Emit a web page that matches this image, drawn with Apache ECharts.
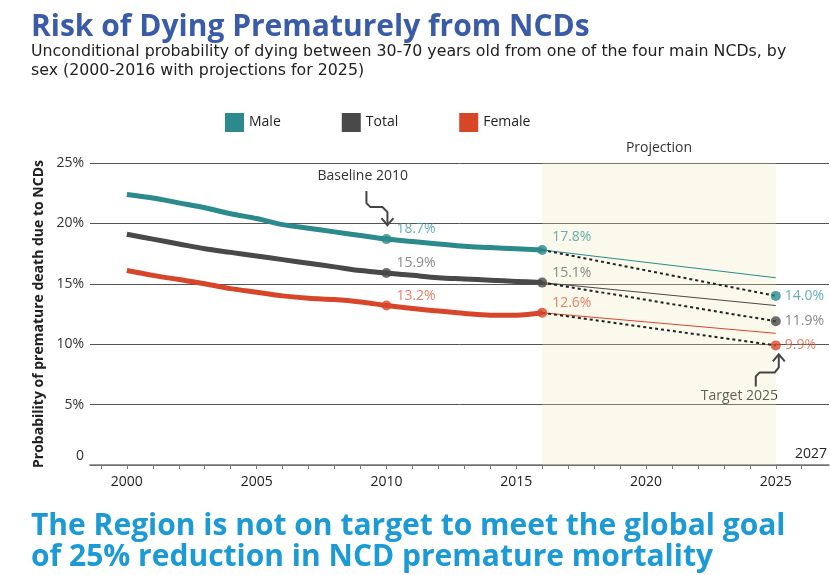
<!DOCTYPE html>
<html>
<head>
<meta charset="utf-8">
<script src="https://cdn.jsdelivr.net/npm/echarts@6/dist/echarts.min.js"></script>
<style>
  html, body { margin: 0; padding: 0; background: #fff; }
  #main { width: 830px; height: 575px; }
</style>
</head>
<body>
<div id="main"></div>
<script>
// observed years and values (% probability)
const years = [2000, 2001, 2002, 2003, 2004, 2005, 2006, 2007, 2008, 2009, 2010, 2011, 2012, 2013, 2014, 2015, 2016];
const male = [22.4, 22.1, 21.7, 21.3, 20.8, 20.4, 19.9, 19.6, 19.3, 19.0, 18.7, 18.5, 18.3, 18.1, 18.0, 17.9, 17.8];
const total = [19.1, 18.7, 18.3, 17.9, 17.6, 17.3, 17.0, 16.7, 16.4, 16.1, 15.9, 15.7, 15.5, 15.4, 15.3, 15.2, 15.1];
const female = [16.1, 15.7, 15.35, 15.0, 14.6, 14.3, 14.0, 13.8, 13.7, 13.5, 13.2, 12.95, 12.75, 12.55, 12.4, 12.4, 12.6];

// projection: current trend to 2025 and the 2025 target
const projYears = [2016, 2025];
const maleTrend = [17.8, 15.5];
const totalTrend = [15.1, 13.2];
const femaleTrend = [12.6, 10.9];
const maleTarget = [17.8, 14.0];
const totalTarget = [15.1, 11.9];
const femaleTarget = [12.6, 9.9];

// highlighted points
const pointYears = [2010, 2016, 2025];
const malePoints = [18.7, 17.8, 14.0];
const totalPoints = [15.9, 15.1, 11.9];
const femalePoints = [13.2, 12.6, 9.9];

// axis ticks
const tickYears = [1999, 2000, 2001, 2002, 2003, 2004, 2005, 2006, 2007, 2008, 2009, 2010, 2011, 2012, 2013,
  2014, 2015, 2016, 2017, 2018, 2019, 2020, 2021, 2022, 2023, 2024, 2025, 2026];
const labelYears = [2000, 2005, 2010, 2015, 2020, 2025];
const projectionRange = [2016, 2025];

const FONT = 'Open Sans';
const groups = [
  { name: 'Male', line: male, trend: maleTrend, target: maleTarget, points: malePoints, color: '#2b8a8c', text: '#3f9c9e' },
  { name: 'Total', line: total, trend: totalTrend, target: totalTarget, points: totalPoints, color: '#494949', text: '#6b6b6b' },
  { name: 'Female', line: female, trend: femaleTrend, target: femaleTarget, points: femalePoints, color: '#d8462a', text: '#e2623f' }
];

let myChart = echarts.init(document.getElementById('main'));

let series = [];
groups.forEach(function (g, gi) {
  let main = {
    name: g.name,
    type: 'line',
    data: years.map(function (y, i) { return [y, g.line[i]]; }),
    smooth: 0.35,
    symbol: 'none',
    color: g.color,
    lineStyle: { width: 5, color: g.color },
    z: 5
  };
  if (gi === 0) {
    main.markArea = {
      silent: true,
      itemStyle: { color: 'rgba(240,228,180,0.25)' },
      label: { show: true, position: 'top', distance: 8, color: '#333', fontFamily: FONT, fontSize: 14 },
      data: [[{ name: 'Projection', xAxis: projectionRange[0], yAxis: 25.35 }, { xAxis: projectionRange[1], yAxis: 0 }]]
    };
  }
  series.push(main);
  series.push({
    name: g.name + ' trend',
    type: 'line',
    data: projYears.map(function (y, i) { return [y, g.trend[i]]; }),
    symbol: 'none',
    lineStyle: { width: 1, color: g.color },
    z: 3
  });
  series.push({
    name: g.name + ' target',
    type: 'line',
    data: projYears.map(function (y, i) { return [y, g.target[i]]; }),
    symbol: 'none',
    lineStyle: { width: 2, color: '#222', type: [3, 3] },
    z: 4
  });
  series.push({
    name: g.name + ' points',
    type: 'scatter',
    symbolSize: 10,
    itemStyle: { color: g.color },
    z: 6,
    data: pointYears.map(function (y, i) {
      let last = i === pointYears.length - 1;
      return {
        value: [y, g.points[i]],
        label: {
          show: true,
          position: 'right',
          distance: last ? 4 : 5,
          offset: last ? [0, 0] : [0, (gi === 0 && i === 1) ? -13 : -10],
          formatter: g.points[i].toFixed(1) + '%',
          color: g.text,
          fontFamily: FONT,
          fontSize: 14
        }
      };
    })
  });
});

let option = {
  animation: false,
  textStyle: { fontFamily: FONT },
  title: [
    {
      text: 'Risk of Dying Prematurely from NCDs',
      left: 26,
      top: 7,
      textStyle: { fontFamily: FONT, fontWeight: 'bold', fontSize: 30, color: '#3a5ca8' }
    },
    {
      text: 'Unconditional probability of dying between 30-70 years old from one of the four main NCDs, by\nsex (2000-2016 with projections for 2025)',
      left: 26,
      top: 37,
      textStyle: { fontFamily: 'DejaVu Sans', fontWeight: 'normal', fontSize: 15.8, lineHeight: 19.5, color: '#222' }
    },
    {
      text: 'The Region is not on target to meet the global goal\nof 25% reduction in NCD premature mortality',
      left: 26,
      top: 506,
      textStyle: { fontFamily: FONT, fontWeight: 'bold', fontSize: 30, lineHeight: 31, color: '#1b9ad6' }
    }
  ],
  legend: {
    data: ['Male', 'Total', 'Female'],
    left: 220,
    top: 108,
    icon: 'rect',
    itemWidth: 19,
    itemHeight: 19,
    itemGap: 61,
    textStyle: { fontFamily: FONT, fontSize: 14, color: '#222' }
  },
  grid: { left: 90, right: 0, top: 163, bottom: 110 },
  xAxis: {
    type: 'value',
    min: 1998.58,
    max: 2027.05,
    name: '2027',
    nameLocation: 'end',
    nameGap: -2,
    nameTextStyle: { fontFamily: FONT, fontSize: 14, color: '#222', align: 'right', verticalAlign: 'bottom', padding: [0, 0, 4, 0] },
    axisLine: { lineStyle: { color: '#777', width: 1.5 } },
    axisTick: { show: true, length: 4, customValues: tickYears, lineStyle: { color: '#777' } },
    axisLabel: {
      customValues: labelYears,
      margin: 10,
      fontFamily: FONT,
      fontSize: 14,
      color: '#222',
      formatter: function (v) { return String(v); }
    },
    splitLine: { show: false }
  },
  yAxis: {
    type: 'value',
    min: 0,
    max: 25,
    interval: 5,
    name: 'Probability of premature death due to NCDs',
    nameLocation: 'middle',
    nameGap: 43,
    nameTextStyle: { fontFamily: FONT, fontWeight: 'bold', fontSize: 14, color: '#222' },
    axisLine: { show: false },
    axisTick: { show: false },
    axisLabel: {
      margin: 6,
      fontFamily: FONT,
      fontSize: 14,
      color: '#333',
      formatter: function (v) { return v === 0 ? '{z|0}' : v + '%'; },
      rich: { z: { fontFamily: FONT, fontSize: 14, color: '#333', padding: [0, 0, 18, 0] } }
    },
    splitLine: { lineStyle: { color: '#555', width: 1 } }
  },
  series: series
};

myChart.setOption(option);

// annotation arrows, anchored to the baseline and target points
let base = myChart.convertToPixel({ gridIndex: 0 }, [pointYears[0], malePoints[0]]);
let targ = myChart.convertToPixel({ gridIndex: 0 }, [pointYears[2], femalePoints[2]]);
let bx = base[0], by = base[1];
let tx = targ[0], ty = targ[1];
myChart.setOption({
  graphic: [
    {
      type: 'text', left: bx - 69, top: by - 70,
      style: { text: 'Baseline 2010', fontFamily: FONT, fontSize: 14, fill: '#333' }
    },
    {
      type: 'polyline', z: 10,
      shape: { points: [[bx - 20, by - 48], [bx - 20, by - 36], [bx - 16, by - 32], [bx - 4, by - 32], [bx + 1, by - 27], [bx + 1, by - 14]] },
      style: { stroke: '#444', lineWidth: 2, fill: null }
    },
    {
      type: 'polyline', z: 10,
      shape: { points: [[bx - 5, by - 21], [bx + 1, by - 14], [bx + 7, by - 21]] },
      style: { stroke: '#444', lineWidth: 2, fill: null }
    },
    {
      type: 'text', left: tx - 75, top: ty + 44,
      style: { text: 'Target 2025', fontFamily: FONT, fontSize: 14, fill: '#333' }
    },
    {
      type: 'polyline', z: 10,
      shape: { points: [[tx - 20, ty + 41], [tx - 20, ty + 31], [tx - 16, ty + 27], [tx - 1, ty + 27], [tx + 3, ty + 22], [tx + 3, ty + 9]] },
      style: { stroke: '#444', lineWidth: 2, fill: null }
    },
    {
      type: 'polyline', z: 10,
      shape: { points: [[tx - 3, ty + 16], [tx + 3, ty + 9], [tx + 9, ty + 16]] },
      style: { stroke: '#444', lineWidth: 2, fill: null }
    }
  ]
});
</script>
</body>
</html>
